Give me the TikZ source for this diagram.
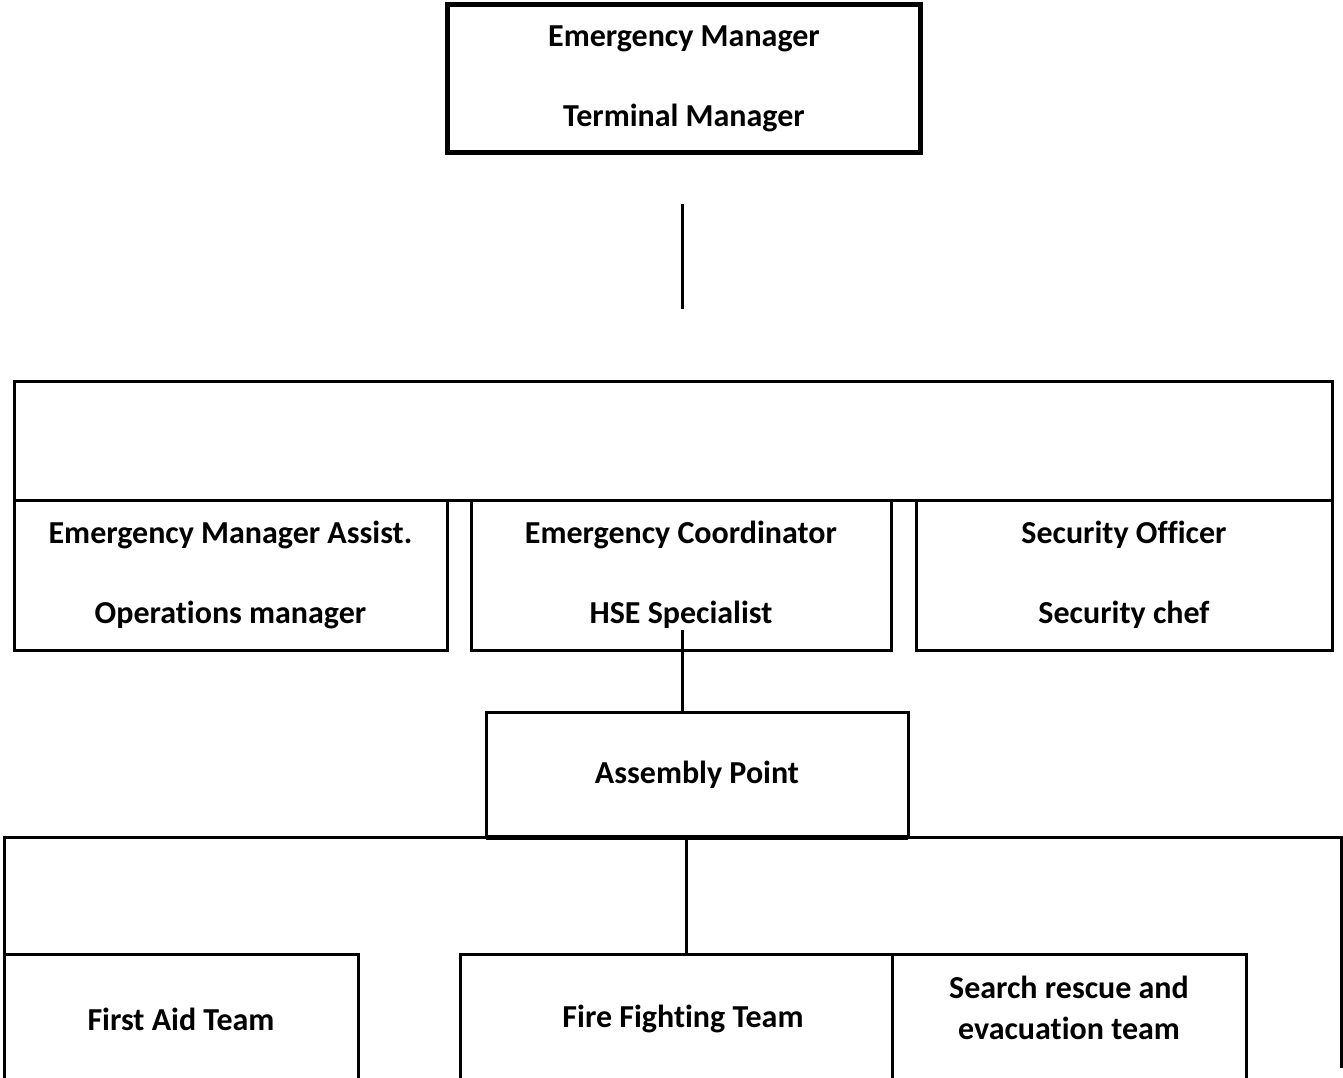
\documentclass[tikz,border=0pt]{standalone}
\usepackage{fontspec}
\setmainfont{Carlito}[Ligatures={NoCommon}]
\begin{document}
\begin{tikzpicture}[x=1pt,y=-1pt,
  every node/.style={font=\fontsize{32}{38}\selectfont\bfseries},
  box/.style={draw, line width=3pt, rectangle, inner sep=0pt, outer sep=0pt, align=center},
  link/.style={line width=3pt}]
\useasboundingbox (0,0) rectangle (1343,1078);
\clip (0,0) rectangle (1343,1078);
% top
\node[box, line width=5pt, minimum width=473pt, minimum height=148pt] (top) at (684,79)
  {Emergency Manager\\[42pt]Terminal Manager};
\coordinate (t1) at (682,204);
\coordinate (t2) at (682,309);
\draw[link] (t1) -- (t2);
% frame 1
\node[box, minimum width=1318pt, minimum height=119pt] (frameA) at (673,440.5) {};
\node[box, minimum width=433pt, minimum height=150pt] (ema) at (230.5,575)
  {Emergency Manager Assist.\\[42pt]Operations manager};
\node[box, minimum width=420pt, minimum height=150pt] (eco) at (681,575)
  {Emergency Coordinator\\[42pt]HSE Specialist};
\node[box, minimum width=416pt, minimum height=150pt] (sec) at (1124,575)
  {Security Officer\\[42pt]Security chef};
% assembly
\coordinate (h1) at (682,630);
\node[box, minimum width=422pt, minimum height=125pt] (asm) at (697,774.5) {Assembly Point};
\draw[link] (h1) -- (h1 |- asm.north);
% frame 2
\coordinate (f1) at (4,1078);
\coordinate (f2) at (4,837);
\coordinate (f3) at (1341,837);
\coordinate (f4) at (1341,1068);
\draw[link] (f1) -- (f2) -- (f3) -- (f4);
\draw[line width=5pt] (asm.south west) -- (asm.south east);
% teams
\node[box, minimum width=354pt, minimum height=130pt] (aid) at (181,1019) {First Aid Team};
\node[box, minimum width=432pt, minimum height=130pt] (fire) at (676,1019) {};
\node[inner sep=0pt] (firetxt) at (683,1019) {Fire Fighting Team};
\node[box, minimum width=354pt, minimum height=130pt] (srch) at (1069,1019) {};
\node[align=center, inner sep=0pt, font=\fontsize{32}{41}\selectfont\bfseries] (srchtxt) at (1069,1008) {Search rescue and\\evacuation team};
\draw[link] (fire.north east) -- ++(17,0) coordinate (fx);
\draw[link] (asm.south -| 686,0) -- (fire.north -| 686,0);
\end{tikzpicture}
\end{document}
